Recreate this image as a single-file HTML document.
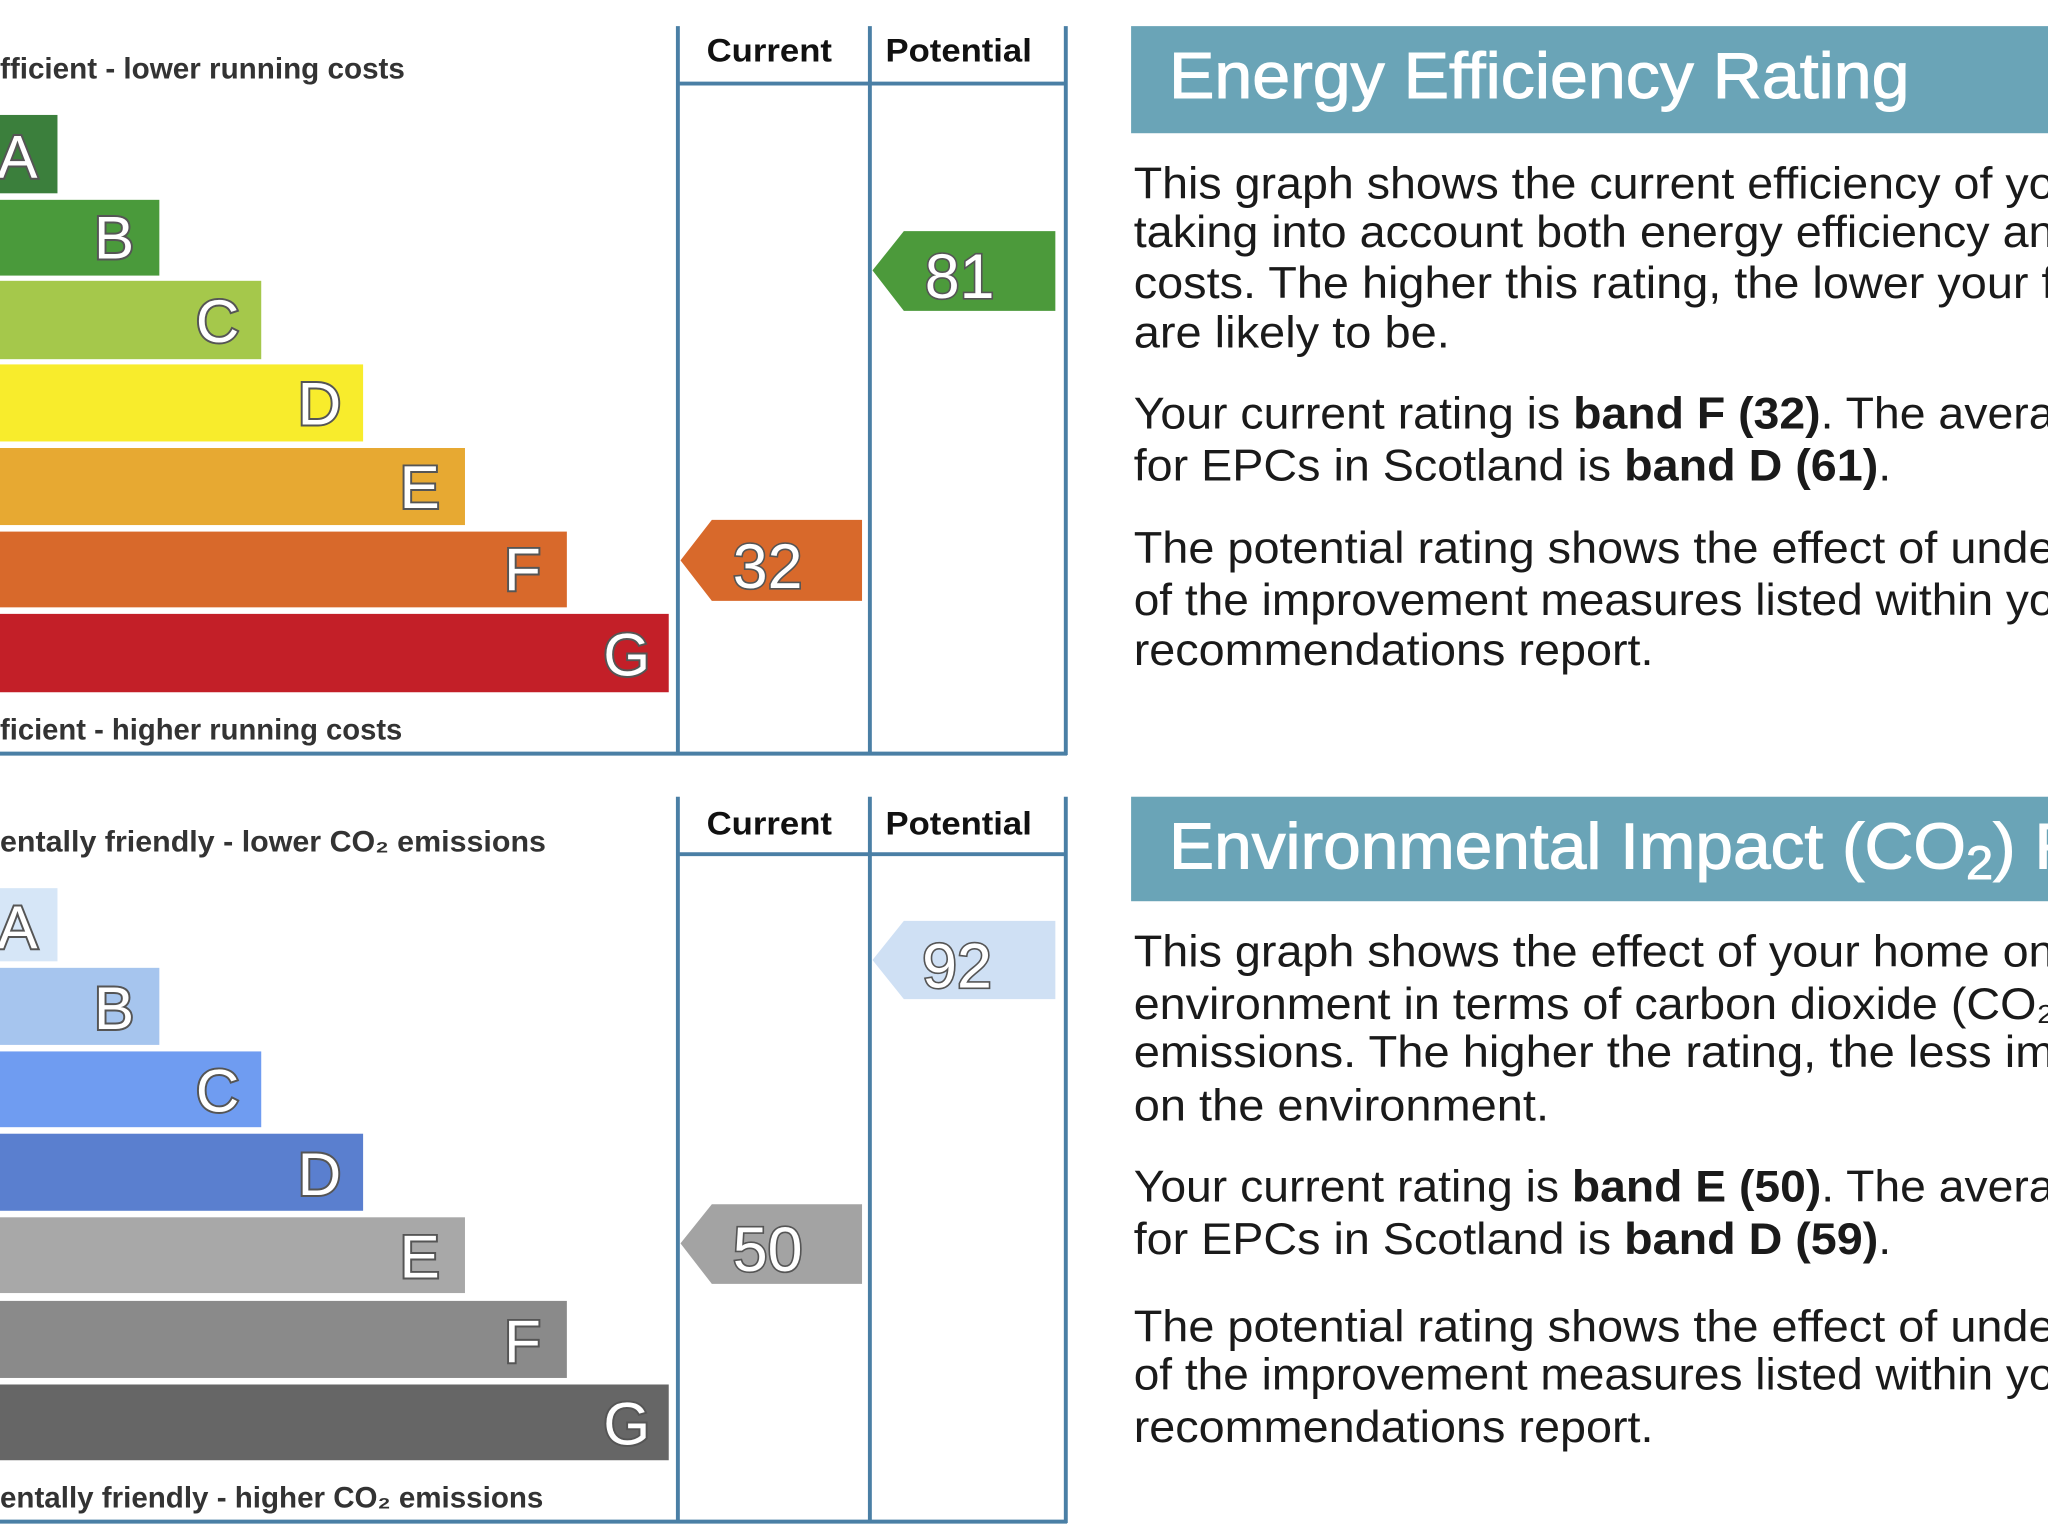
<!DOCTYPE html>
<html><head><meta charset="utf-8"><style>
html,body{margin:0;padding:0;background:#fff;}
svg{display:block;}
.lbl{font-family:"Liberation Sans",sans-serif;font-size:23px;fill:#333;font-weight:bold;}
.hd{font-family:"Liberation Sans",sans-serif;font-size:25px;fill:#111;font-weight:bold;}
.band{font-family:"Liberation Sans",sans-serif;font-size:46px;fill:#fff;stroke:#555;stroke-width:3;paint-order:stroke;}
.num{font-family:"Liberation Sans",sans-serif;font-size:48px;fill:#fff;stroke:#555;stroke-width:2.5;paint-order:stroke;}
.tt{font-family:"Liberation Sans",sans-serif;font-size:50px;fill:#fff;stroke:#fff;stroke-width:0.8;}
.p{font-family:"Liberation Sans",sans-serif;font-size:34px;fill:#1a1a1a;}
.b{font-weight:bold;}
</style></head><body>
<svg width="2048" height="1536" viewBox="0 0 1568 1176" preserveAspectRatio="none" xmlns="http://www.w3.org/2000/svg">
<g>
<text class="lbl" x="0" y="60" textLength="310" lengthAdjust="spacingAndGlyphs">fficient - lower running costs</text>
<rect x="0" y="88" width="44" height="60" fill="#3b7f3c"/>
<rect x="0" y="153" width="122" height="58" fill="#4a9a3b"/>
<rect x="0" y="215" width="200" height="60" fill="#a5c84b"/>
<rect x="0" y="279" width="278" height="59" fill="#f8ec2c"/>
<rect x="0" y="343" width="356" height="59" fill="#e7a932"/>
<rect x="0" y="407" width="434" height="58" fill="#d8692b"/>
<rect x="0" y="470" width="512" height="60" fill="#c31f28"/>
<text class="band" x="-2" y="136">A</text>
<text class="band" x="72" y="198">B</text>
<text class="band" x="150" y="262">C</text>
<text class="band" x="228" y="325">D</text>
<text class="band" x="306" y="389">E</text>
<text class="band" x="386" y="452">F</text>
<text class="band" x="462" y="517">G</text>
<text class="lbl" x="0" y="566" textLength="308" lengthAdjust="spacingAndGlyphs">ficient - higher running costs</text>
<g stroke="#4a7fa5" stroke-width="3" fill="none">
<line x1="519" y1="20" x2="519" y2="578"/>
<line x1="666" y1="20" x2="666" y2="578"/>
<line x1="816" y1="20" x2="816" y2="578"/>
<line x1="519" y1="64" x2="816" y2="64"/>
<line x1="0" y1="577" x2="817" y2="577"/>
</g>
<text class="hd" x="541" y="47" textLength="96" lengthAdjust="spacingAndGlyphs">Current</text>
<text class="hd" x="678" y="47" textLength="112" lengthAdjust="spacingAndGlyphs">Potential</text>
<polygon points="668,207 692,177 808,177 808,238 692,238" fill="#4c9a3b"/>
<text class="num" x="708" y="228">81</text>
<polygon points="521,429 545,398 660,398 660,460 545,460" fill="#d8692b"/>
<text class="num" x="561" y="450">32</text>
</g>
<rect x="866" y="20" width="702" height="82" fill="#6aa4b7"/>
<text class="tt" x="895" y="75" textLength="567" lengthAdjust="spacingAndGlyphs">Energy Efficiency Rating</text>
<text class="p" x="868" y="152" textLength="705" lengthAdjust="spacingAndGlyphs">This graph shows the current efficiency of yo</text>
<text class="p" x="868" y="189" textLength="705" lengthAdjust="spacingAndGlyphs">taking into account both energy efficiency an</text>
<text class="p" x="868" y="228" textLength="705" lengthAdjust="spacingAndGlyphs">costs. The higher this rating, the lower your f</text>
<text class="p" x="868" y="266" textLength="242" lengthAdjust="spacingAndGlyphs">are likely to be.</text>
<text class="p" x="868" y="328" textLength="705" lengthAdjust="spacingAndGlyphs">Your current rating is <tspan class="b">band F (32)</tspan>. The avera</text>
<text class="p" x="868" y="368" textLength="580" lengthAdjust="spacingAndGlyphs">for EPCs in Scotland is <tspan class="b">band D (61)</tspan>.</text>
<text class="p" x="868" y="431" textLength="705" lengthAdjust="spacingAndGlyphs">The potential rating shows the effect of unde</text>
<text class="p" x="868" y="471" textLength="705" lengthAdjust="spacingAndGlyphs">of the improvement measures listed within yo</text>
<text class="p" x="868" y="509" textLength="398" lengthAdjust="spacingAndGlyphs">recommendations report.</text>

<g>
<text class="lbl" x="0" y="652" textLength="418" lengthAdjust="spacingAndGlyphs">entally friendly - lower CO₂ emissions</text>
<rect x="0" y="680" width="44" height="56" fill="#d6e6f7"/>
<rect x="0" y="741" width="122" height="59" fill="#a6c5ee"/>
<rect x="0" y="805" width="200" height="58" fill="#6f9cf1"/>
<rect x="0" y="868" width="278" height="59" fill="#5a7fcf"/>
<rect x="0" y="932" width="356" height="58" fill="#a8a8a8"/>
<rect x="0" y="996" width="434" height="59" fill="#8a8a8a"/>
<rect x="0" y="1060" width="512" height="58" fill="#666666"/>
<text class="band" x="-2" y="726">A</text>
<text class="band" x="72" y="788">B</text>
<text class="band" x="150" y="851">C</text>
<text class="band" x="228" y="915">D</text>
<text class="band" x="306" y="978">E</text>
<text class="band" x="386" y="1043">F</text>
<text class="band" x="462" y="1106">G</text>
<text class="lbl" x="0" y="1154" textLength="416" lengthAdjust="spacingAndGlyphs">entally friendly - higher CO₂ emissions</text>
<g stroke="#4a7fa5" stroke-width="3" fill="none">
<line x1="519" y1="610" x2="519" y2="1166"/>
<line x1="666" y1="610" x2="666" y2="1166"/>
<line x1="816" y1="610" x2="816" y2="1166"/>
<line x1="519" y1="654" x2="816" y2="654"/>
<line x1="0" y1="1165" x2="817" y2="1165"/>
</g>
<text class="hd" x="541" y="639" textLength="96" lengthAdjust="spacingAndGlyphs">Current</text>
<text class="hd" x="678" y="639" textLength="112" lengthAdjust="spacingAndGlyphs">Potential</text>
<polygon points="668,735 692,705 808,705 808,765 692,765" fill="#cfe0f4"/>
<text class="num" x="706" y="756">92</text>
<polygon points="521,952 545,922 660,922 660,983 545,983" fill="#a3a3a3"/>
<text class="num" x="561" y="973">50</text>
</g>
<rect x="866" y="610" width="702" height="80" fill="#6aa4b7"/>
<text class="tt" x="895" y="665" textLength="700" lengthAdjust="spacingAndGlyphs">Environmental Impact (CO<tspan font-size="36" dy="8">2</tspan><tspan dy="-8">) R</tspan></text>
<text class="p" x="868" y="740" textLength="705" lengthAdjust="spacingAndGlyphs">This graph shows the effect of your home on</text>
<text class="p" x="868" y="780" textLength="705" lengthAdjust="spacingAndGlyphs">environment in terms of carbon dioxide (CO₂</text>
<text class="p" x="868" y="817" textLength="705" lengthAdjust="spacingAndGlyphs">emissions. The higher the rating, the less im</text>
<text class="p" x="868" y="858" textLength="318" lengthAdjust="spacingAndGlyphs">on the environment.</text>
<text class="p" x="868" y="920" textLength="705" lengthAdjust="spacingAndGlyphs">Your current rating is <tspan class="b">band E (50)</tspan>. The avera</text>
<text class="p" x="868" y="960" textLength="580" lengthAdjust="spacingAndGlyphs">for EPCs in Scotland is <tspan class="b">band D (59)</tspan>.</text>
<text class="p" x="868" y="1027" textLength="705" lengthAdjust="spacingAndGlyphs">The potential rating shows the effect of unde</text>
<text class="p" x="868" y="1064" textLength="705" lengthAdjust="spacingAndGlyphs">of the improvement measures listed within yo</text>
<text class="p" x="868" y="1104" textLength="398" lengthAdjust="spacingAndGlyphs">recommendations report.</text>
</svg>
</body></html>
